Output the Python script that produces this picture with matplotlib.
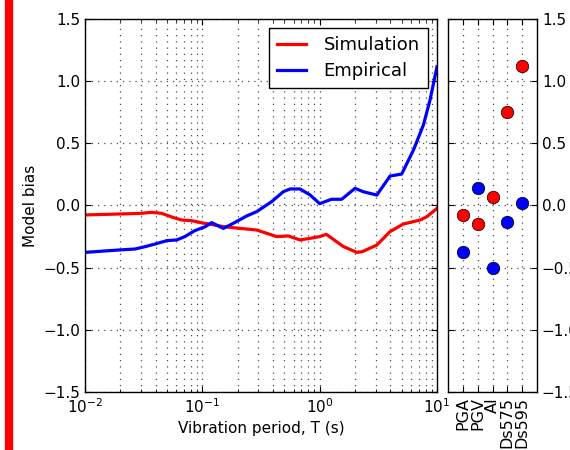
import matplotlib
matplotlib.use("Agg")
import matplotlib.pyplot as plt
from matplotlib.patches import Rectangle

# ---- data ----
sim_T = [0.01, 0.02, 0.029, 0.037, 0.045, 0.057, 0.067, 0.081, 0.10, 0.124, 0.151, 0.21, 0.29,
         0.43, 0.54, 0.68, 0.83, 1.0, 1.14, 1.59, 2.07, 2.3, 3.07, 3.98, 5.16, 7.18, 8.2, 10.0]
sim_bias = [-0.076, -0.068, -0.064, -0.055, -0.063, -0.098, -0.117, -0.122, -0.14, -0.155, -0.17,
            -0.184, -0.197, -0.25, -0.245, -0.277, -0.264, -0.25, -0.232, -0.33, -0.377, -0.372,
            -0.318, -0.21, -0.149, -0.117, -0.09, -0.023]
emp_T = [0.01, 0.0193, 0.0267, 0.0325, 0.0395, 0.0497, 0.0605, 0.071, 0.086, 0.106, 0.12, 0.151,
         0.184, 0.239, 0.29, 0.39, 0.49, 0.56, 0.68, 0.83, 1.0, 1.26, 1.54, 2.0, 2.35, 3.07, 3.98,
         5.0, 6.3, 7.66, 8.73, 10.0]
emp_bias = [-0.377, -0.358, -0.35, -0.331, -0.31, -0.283, -0.277, -0.25, -0.203, -0.17, -0.138,
            -0.184, -0.143, -0.084, -0.05, 0.031, 0.111, 0.133, 0.133, 0.084, 0.015, 0.05, 0.05,
            0.138, 0.111, 0.084, 0.237, 0.253, 0.446, 0.648, 0.85, 1.117]

categories = ['PGA', 'PGV', 'AI', 'Ds575', 'Ds595']
sim_pts = [-0.08, -0.15, 0.07, 0.75, 1.12]
emp_pts = [-0.37, 0.14, -0.50, -0.13, 0.02]

yticks = [-1.5, -1.0, -0.5, 0.0, 0.5, 1.0, 1.5]

plt.rcParams.update({
    'font.family': 'DejaVu Sans',
    'xtick.direction': 'in', 'ytick.direction': 'in',
    'xtick.top': True, 'ytick.right': True,
    'xtick.major.size': 4.5, 'ytick.major.size': 4.5,
    'xtick.minor.size': 2.5, 'ytick.minor.size': 2.5,
    'axes.linewidth': 1.0,
    'xtick.labelsize': 11, 'ytick.labelsize': 11,
})

grid_kw = dict(linestyle=(0, (1, 4)), color='0.3', lw=0.9)

W, H = 570, 450
fig = plt.figure(figsize=(W / 100, H / 100), dpi=100)

# red strip at left edge
fig.patches.append(Rectangle((5 / W, 0), 7 / W, 1, transform=fig.transFigure,
                             color='#ff0000', zorder=10))

ax = fig.add_axes([85 / W, 1 - 392 / H, (437 - 85) / W, (392 - 19) / H])
ax.plot(sim_T, sim_bias, color='red', lw=2.3, label='Simulation')
ax.plot(emp_T, emp_bias, color='blue', lw=2.3, label='Empirical')
ax.set_xscale('log')
ax.set_xlim(0.01, 10)
ax.set_ylim(-1.5, 1.5)
ax.set_yticks(yticks)
ax.grid(True, which='major', **grid_kw)
ax.grid(True, which='minor', axis='x', **grid_kw)
ax.set_xlabel('Vibration period, T (s)', fontsize=11)
ax.set_ylabel('Model bias', fontsize=11)
leg = ax.legend(loc='upper right', fontsize=13, fancybox=False, framealpha=1,
                edgecolor='black', handlelength=1.6, handletextpad=1.0,
                borderpad=0.45, labelspacing=0.45)
leg.get_frame().set_linewidth(1.0)

ax2 = fig.add_axes([448 / W, 1 - 392 / H, (537 - 448) / W, (392 - 19) / H])
pos = list(range(1, len(categories) + 1))
ax2.plot(pos, sim_pts, 'o', color='red', ms=9, mec='black', mew=0.5, ls='none')
ax2.plot(pos, emp_pts, 'o', color='blue', ms=9, mec='black', mew=0.5, ls='none')
ax2.set_xlim(0, len(categories) + 1)
ax2.set_ylim(-1.5, 1.5)
ax2.set_yticks(yticks)
ax2.set_xticks(pos)
ax2.set_xticklabels(categories, rotation=90, fontsize=11.5)
ax2.tick_params(axis='y', left=True, right=True, labelleft=False, labelright=True)
ax2.grid(True, **grid_kw)

fig.savefig('out.png', dpi=100)
